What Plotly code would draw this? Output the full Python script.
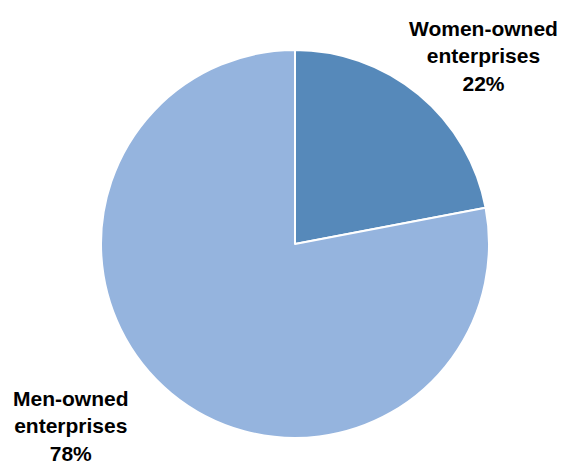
import plotly.graph_objects as go

labels = ["Women-owned enterprises", "Men-owned enterprises"]
label_lines = ["Women-owned<br>enterprises", "Men-owned<br>enterprises"]
values = [22, 78]
colors = ["#5689BA", "#95B4DE"]

W, H = 567, 466
OFF = 8  # page body margin
fig = go.Figure(go.Pie(
    labels=labels,
    values=values,
    sort=False,
    direction="clockwise",
    rotation=0,
    marker=dict(colors=colors, line=dict(color="white", width=2)),
    textinfo="none",
    hoverinfo="label+percent",
    domain=dict(x=[(101 - OFF) / W, (489 - OFF) / W],
                y=[(H - 438 + OFF) / H, (H - 50 + OFF) / H]),
    showlegend=False,
))

total = sum(values)
label_pos = [(483, 56), (71, 426)]
for txt, v, (px, py) in zip(label_lines, values, label_pos):
    fig.add_annotation(
        text=f"<b>{txt}<br>{round(100*v/total)}%</b>",
        x=(px - OFF) / W, y=(H - py + OFF) / H, xref="paper", yref="paper",
        xanchor="center", yanchor="middle", showarrow=False,
        font=dict(family="Liberation Sans, Arial, sans-serif", size=21, color="black"),
        align="center",
    )

fig.update_layout(
    width=W, height=H,
    margin=dict(l=0, r=0, t=0, b=0),
    paper_bgcolor="white", plot_bgcolor="white",
)
fig.write_html("out.html")
